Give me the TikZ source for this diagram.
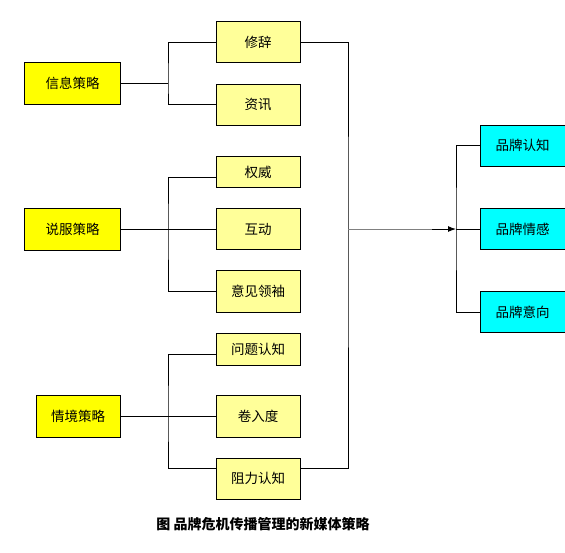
\documentclass[tikz,border=0pt]{standalone}
\usepackage{fontspec}
\setmainfont{Noto Sans CJK SC}
\usetikzlibrary{arrows.meta}
\definecolor{mainyel}{RGB}{255,255,0}
\definecolor{subyel}{RGB}{255,255,153}
\definecolor{brandcy}{RGB}{0,255,255}
\tikzset{
  box/.style={draw, line width=1pt, inner sep=0pt, minimum width=84pt, font=\fontsize{13.5}{13.5}\selectfont},
  strat/.style={box, fill=mainyel, minimum height=42pt},
  sub/.style={box, fill=subyel},
  brand/.style={box, fill=brandcy, minimum width=85pt, minimum height=41pt},
  link/.style={line width=1pt}
}
\begin{document}
\begin{tikzpicture}[x=1pt,y=-1pt]
            \useasboundingbox (0,0) rectangle (565,552);
            % strategies
            \node[strat, minimum width=96pt] (info) at (72.5,83.5) {信息策略};
            \node[strat, minimum width=96pt] (pers) at (72.5,229) {说服策略};
            \node[strat] (situ) at (78,416) {情境策略};
            % sub boxes
            \node[sub, minimum height=41pt] (xiuci) at (258,42) {修辞};
            \node[sub, minimum height=41pt] (zixun) at (258,104.5) {资讯};
            \node[sub, minimum height=31pt] (quanwei) at (258,172) {权威};
            \node[sub, minimum height=41pt] (hudong) at (258,229) {互动};
            \node[sub, minimum height=42pt] (yijian) at (258,291) {意见领袖};
            \node[sub, minimum height=32pt] (wenti) at (258,349) {问题认知};
            \node[sub, minimum height=42pt] (juanru) at (258,416) {卷入度};
            \node[sub, minimum height=41pt] (zuli) at (258,478.5) {阻力认知};
            % brand
            \node[brand] (renzhi) at (522.5,145.5) {品牌认知};
            \node[brand] (qinggan) at (522.5,229) {品牌情感};
            \node[brand] (yixiang) at (522.5,312) {品牌意向};
            \node[font=\bfseries\fontsize{14}{14}\selectfont] (title) at (263,524) {图\ 品牌危机传播管理的新媒体策略};

            \coordinate (ja) at (168,83.5);
            \coordinate (jb) at (168,229);
            \coordinate (jc) at (168,416);
            \coordinate (jr) at (348,229);
            \coordinate (ag) at (432,229);
            \coordinate (jd) at (456,229);

            \draw[link] (info) -- (ja);
            \draw[link] (xiuci.west) -| (ja) |- (zixun.west);
            \draw[link] (pers) -- (hudong);
            \draw[link] ([yshift=-5pt]quanwei.west) -| (jb) |- (yijian.west);
            \draw[link] (situ) -- (juanru);
            \draw[link] ([yshift=-5pt]wenti.west) -| (jc) |- ([yshift=10.5pt]zuli.west);
            \draw[link] (xiuci.east) -| (jr) |- ([yshift=10.5pt]zuli.east);
            \draw[link, color=gray] (jr) -- (ag);
            \draw[link, -{Latex[length=8pt,width=6pt]}] (ag) -- (jd);
            \draw[link] (renzhi.west) -| (jd) |- (yixiang.west);
            \draw[link] (jd) -- (qinggan);

        \end{tikzpicture}
\end{document}
